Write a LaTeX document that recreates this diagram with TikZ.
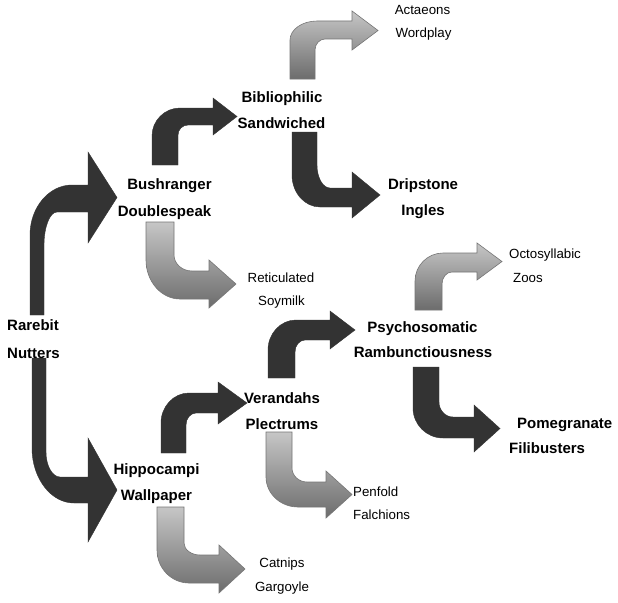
\documentclass[tikz,border=0pt]{standalone}
\usepackage{fontspec}
\setmainfont{Liberation Sans}
\definecolor{arrowdark}{RGB}{51,51,51}
\definecolor{gLight}{RGB}{198,198,198}
\definecolor{gDark}{RGB}{108,108,108}
\definecolor{gEdge}{RGB}{118,118,118}
\pgfkeys{/bent/.cd,
 xl/.store in=\bXl, xr/.store in=\bXr, ys/.store in=\bYs, yt/.store in=\bYt, yb/.store in=\bYb,
 Rx/.store in=\bRx, Ry/.store in=\bRy, rx/.store in=\brx, ry/.store in=\bry,
 xb/.store in=\bXb, h1/.store in=\bHa, h2/.store in=\bHb, xt/.store in=\bXt}
% up-then-right bent arrow (image coordinates, y downwards)
\newcommand\bentUR[2]{%
 \pgfkeys{/bent/.cd,#2}%
 \path[#1] (\bXl,\bYs) -- (\bXl,{\bYt+\bRy})
  .. controls (\bXl,{\bYt+0.45*\bRy}) and ({\bXl+0.45*\bRx},\bYt) .. ({\bXl+\bRx},\bYt)
  -- (\bXb,\bYt) -- (\bXb,\bHa) -- (\bXt,{(\bHa+\bHb)/2}) -- (\bXb,\bHb) -- (\bXb,\bYb)
  -- ({\bXr+\brx},\bYb)
  .. controls ({\bXr+0.45*\brx},\bYb) and (\bXr,{\bYb+0.45*\bry}) .. (\bXr,{\bYb+\bry})
  -- (\bXr,\bYs) -- cycle;}
% down-then-right bent arrow
\newcommand\bentDR[2]{%
 \pgfkeys{/bent/.cd,#2}%
 \path[#1] (\bXl,\bYs) -- (\bXl,{\bYb-\bRy})
  .. controls (\bXl,{\bYb-0.45*\bRy}) and ({\bXl+0.45*\bRx},\bYb) .. ({\bXl+\bRx},\bYb)
  -- (\bXb,\bYb) -- (\bXb,\bHb) -- (\bXt,{(\bHa+\bHb)/2}) -- (\bXb,\bHa) -- (\bXb,\bYt)
  -- ({\bXr+\brx},\bYt)
  .. controls ({\bXr+0.45*\brx},\bYt) and (\bXr,{\bYt-0.45*\bry}) .. (\bXr,{\bYt-\bry})
  -- (\bXr,\bYs) -- cycle;}
\tikzset{
 darkarrow/.style={fill=arrowdark, draw=arrowdark, line width=0.4pt},
 grayarrow/.style={top color=gLight, bottom color=gDark, draw=gEdge, line width=0.6pt},
 bl/.style={inner sep=0pt, anchor=base, font=\fontsize{15}{18}\selectfont\bfseries},
 rl/.style={inner sep=0pt, anchor=base, font=\fontsize{13.3}{16}\selectfont},
}
\begin{document}
\begin{tikzpicture}[x=1pt,y=-1pt]
\useasboundingbox (0,0) rectangle (618,602);
\fill[white] (0,0) rectangle (618,602);
% arrows
\bentUR{darkarrow}{xl=30,xr=44,ys=315,yt=185,yb=212,Rx=42,Ry=50,rx=13,ry=33,xb=88,h1=152,h2=243,xt=117}
\bentDR{darkarrow}{xl=32,xr=46,ys=358,yt=477,yb=503,Rx=42,Ry=55,rx=14,ry=25,xb=88,h1=438,h2=542,xt=117}
\bentUR{darkarrow}{xl=152,xr=178,ys=165,yt=108,yb=125,Rx=28,Ry=28,rx=10,ry=10,xb=213,h1=98,h2=135,xt=237}
\bentDR{darkarrow}{xl=292,xr=317,ys=132,yt=188,yb=207,Rx=28,Ry=32,rx=13,ry=23,xb=352,h1=172,h2=218,xt=380}
\bentUR{grayarrow}{xl=290,xr=315,ys=79,yt=21,yb=39,Rx=27,Ry=19,rx=10,ry=11,xb=352,h1=11,h2=50,xt=378}
\bentDR{grayarrow}{xl=146,xr=174,ys=222,yt=271,yb=299,Rx=34,Ry=39,rx=18,ry=16,xb=209,h1=260,h2=308,xt=236}
\bentUR{darkarrow}{xl=161,xr=186,ys=453,yt=393,yb=413,Rx=28,Ry=30,rx=10,ry=12,xb=218,h1=382,h2=424,xt=247}
\bentUR{darkarrow}{xl=268,xr=295,ys=378,yt=320,yb=340,Rx=28,Ry=30,rx=10,ry=12,xb=330,h1=311,h2=349,xt=355}
\bentUR{grayarrow}{xl=415,xr=442,ys=310,yt=253,yb=272,Rx=28,Ry=28,rx=10,ry=12,xb=477,h1=243,h2=280,xt=502}
\bentDR{darkarrow}{xl=413,xr=439,ys=367,yt=417,yb=438,Rx=30,Ry=30,rx=14,ry=15,xb=474,h1=405,h2=452,xt=500}
\bentDR{grayarrow}{xl=266,xr=292,ys=432,yt=482,yb=507,Rx=32,Ry=30,rx=15,ry=14,xb=326,h1=471,h2=518,xt=352}
\bentDR{grayarrow}{xl=157,xr=184,ys=507,yt=555,yb=583,Rx=32,Ry=33,rx=16,ry=12,xb=219,h1=545,h2=593,xt=245}
% bold labels
\node[bl, anchor=base west] (rar1) at (7,330) {Rarebit};
\node[bl, anchor=base west] (rar2) at (7,358) {Nutters};
\node[bl] (bus1) at (169.5,189) {Bushranger};
\node[bl] (bus2) at (164.5,216) {Doublespeak};
\node[bl] (bib1) at (282,102) {Bibliophilic};
\node[bl] (bib2) at (281.5,128) {Sandwiched};
\node[bl] (dri1) at (423,189) {Dripstone};
\node[bl] (dri2) at (423,215) {Ingles};
\node[bl] (psy1) at (422.5,332) {Psychosomatic};
\node[bl] (psy2) at (423,357) {Rambunctiousness};
\node[bl] (ver1) at (282,403) {Verandahs};
\node[bl] (ver2) at (282,429) {Plectrums};
\node[bl] (hip1) at (156.5,474) {Hippocampi};
\node[bl] (hip2) at (156.5,500) {Wallpaper};
\node[bl, anchor=base west] (pom1) at (517,428) {Pomegranate};
\node[bl, anchor=base west] (pom2) at (509,453) {Filibusters};
% regular labels
\node[rl] (act1) at (422.5,14.5) {Actaeons};
\node[rl] (act2) at (423.5,37.5) {Wordplay};
\node[rl] (ret1) at (281,282.5) {Reticulated};
\node[rl] (ret2) at (281.5,305.5) {Soymilk};
\node[rl, anchor=base west] (oct1) at (509,258.5) {Octosyllabic};
\node[rl, anchor=base west] (oct2) at (513,282.5) {Zoos};
\node[rl, anchor=base west] (pen1) at (353,496.5) {Penfold};
\node[rl, anchor=base west] (pen2) at (353,519.5) {Falchions};
\node[rl] (cat1) at (282,567.5) {Catnips};
\node[rl] (cat2) at (282,591.5) {Gargoyle};
\end{tikzpicture}
\end{document}
